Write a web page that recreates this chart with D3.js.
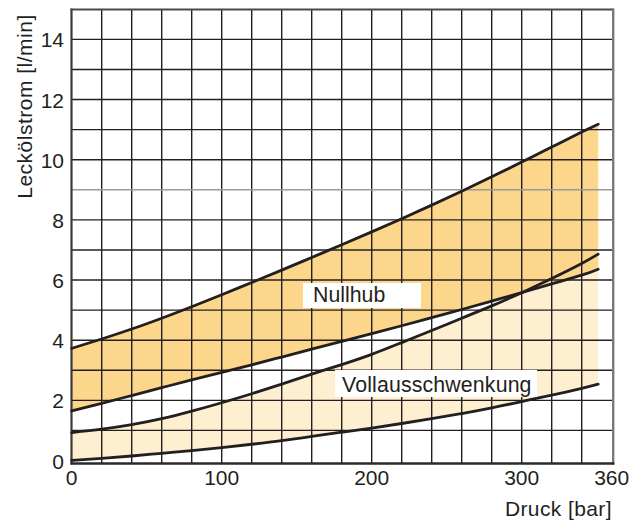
<!DOCTYPE html>
<html>
<head>
<meta charset="utf-8">
<script src="https://cdn.jsdelivr.net/npm/d3@7"></script>
<style>
  html, body { margin: 0; padding: 0; background: #fff; }
  svg { display: block; font-family: "Liberation Sans", Arial, Helvetica, sans-serif; }
</style>
</head>
<body>
<svg id="chart" width="644" height="520"></svg>
<script>
// ---- data ----
const pressure = [0, 20, 40, 60, 80, 100, 120, 140, 160, 180, 200, 220, 240, 260, 280, 300, 320, 340, 351];
const nullhubUpper = [3.73, 4.04, 4.37, 4.73, 5.11, 5.51, 5.92, 6.33, 6.75, 7.17, 7.60, 8.04, 8.49, 8.95, 9.43, 9.92, 10.42, 10.92, 11.18];
const nullhubLower = [1.65, 1.90, 2.16, 2.42, 2.68, 2.93, 3.18, 3.44, 3.70, 3.96, 4.22, 4.48, 4.75, 5.02, 5.30, 5.58, 5.87, 6.16, 6.36];
const vollUpper = [0.93, 1.04, 1.19, 1.39, 1.64, 1.92, 2.22, 2.54, 2.87, 3.19, 3.53, 3.92, 4.32, 4.73, 5.14, 5.58, 6.05, 6.55, 6.86];
const vollLower = [0.00, 0.07, 0.15, 0.24, 0.33, 0.43, 0.54, 0.66, 0.80, 0.94, 1.08, 1.23, 1.39, 1.56, 1.75, 1.96, 2.17, 2.40, 2.54];
const xTickLabels = [0, 100, 200, 300, 360];
const yTickLabels = [0, 2, 4, 6, 8, 10, 12, 14];
const xGrid = d3.range(20, 360, 20);
const yGrid = d3.range(1, 15, 1);
const xTitle = "Druck [bar]";
const yTitle = "Leckölstrom [l/min]";
const bandLabels = ["Nullhub", "Vollausschwenkung"];

// ---- layout ----
const svg = d3.select("#chart");
const x = d3.scaleLinear().domain([0, 360]).range([71.7, 611.7]);
const y = d3.scaleLinear().domain([0, 15]).range([460.5, 9.3]);

const colDark = "#fcd68b";
const colLight = "#feefd1";
const ink = "#231f20";

const rows = pressure.map((p, i) => ({
  p, nu: nullhubUpper[i], nl: nullhubLower[i], vu: vollUpper[i], vl: vollLower[i]
}));
const curve = d3.curveNatural;

// fills
svg.append("path")
  .attr("d", d3.area().curve(curve).x(d => x(d.p)).y0(d => y(d.vl)).y1(d => y(d.vu))(rows))
  .attr("fill", colLight);
svg.append("path")
  .attr("d", d3.area().curve(curve).x(d => x(d.p)).y0(d => y(d.nl)).y1(d => y(d.nu))(rows))
  .attr("fill", colDark);

// grid
const grid = svg.append("g");
grid.selectAll("line.v").data(xGrid).join("line")
  .attr("x1", d => x(d)).attr("x2", d => x(d))
  .attr("y1", y(15)).attr("y2", 463)
  .attr("stroke", ink).attr("stroke-width", 1.4);
grid.selectAll("line.h").data(yGrid).join("line")
  .attr("x1", x(0)).attr("x2", 613)
  .attr("y1", d => y(d)).attr("y2", d => y(d))
  .attr("stroke", d => d === 9 ? "#9a9a9a" : ink)
  .attr("stroke-width", 1.4);

// frame
svg.append("line").attr("x1", 71.5).attr("x2", 71.5).attr("y1", 8.5).attr("y2", 464.5)
  .attr("stroke", "#3a3a3a").attr("stroke-width", 2.2);
svg.append("line").attr("x1", 70.5).attr("x2", 614).attr("y1", 9.5).attr("y2", 9.5)
  .attr("stroke", "#4a4a4a").attr("stroke-width", 2);
svg.append("line").attr("x1", 613.2).attr("x2", 613.2).attr("y1", 8.5).attr("y2", 464.5)
  .attr("stroke", "#7a7a7a").attr("stroke-width", 2.4);
svg.append("line").attr("x1", 70.5).attr("x2", 614.4).attr("y1", 463.5).attr("y2", 463.5)
  .attr("stroke", "#2a2a2a").attr("stroke-width", 2.4);

// curves
const line = key => d3.line().curve(curve).x(d => x(d.p)).y(d => y(d[key]));
["nu", "nl", "vu", "vl"].forEach(k => {
  svg.append("path").attr("d", line(k)(rows))
    .attr("fill", "none").attr("stroke", ink).attr("stroke-width", 2.8)
    .attr("stroke-linecap", "round");
});

// band labels
const lab = svg.append("g");
lab.append("rect").attr("x", 303).attr("y", 283).attr("width", 118).attr("height", 25).attr("fill", "#fff");
lab.append("text").attr("x", 313).attr("y", 302).text(bandLabels[0])
  .attr("font-size", 21.3).attr("fill", ink);
lab.append("rect").attr("x", 335).attr("y", 370).attr("width", 202).attr("height", 27).attr("fill", "#fff");
lab.append("text").attr("x", 342).attr("y", 391.5).text(bandLabels[1])
  .attr("font-size", 21.3).attr("fill", ink).attr("letter-spacing", 0.15);

// tick labels
svg.append("g").selectAll("text").data(yTickLabels).join("text")
  .attr("x", 64).attr("y", d => y(d) + 8).attr("text-anchor", "end")
  .attr("font-size", 21).attr("fill", ink).text(d => d);
svg.append("g").selectAll("text").data(xTickLabels).join("text")
  .attr("x", d => x(d)).attr("y", 485).attr("text-anchor", "middle")
  .attr("font-size", 21).attr("fill", ink).text(d => d);

// axis titles
svg.append("text").attr("x", 612).attr("y", 516).attr("text-anchor", "end")
  .attr("font-size", 21).attr("letter-spacing", 0.4).attr("fill", ink).text(xTitle);
svg.append("text").attr("transform", "translate(31.5,106.5) rotate(-90)")
  .attr("text-anchor", "middle").attr("font-size", 21).attr("letter-spacing", 0.5)
  .attr("fill", ink).text(yTitle);
</script>
</body>
</html>
